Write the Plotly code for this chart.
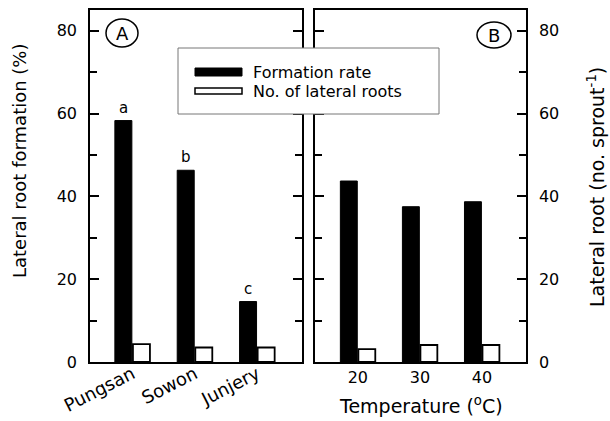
import plotly.graph_objects as go

# ---- data ----
cultivars = ["Pungsan", "Sowon", "Junjery"]
formation_a = [58.3, 46.3, 14.6]
lateral_a = [4.3, 3.5, 3.5]
letters_a = ["a", "b", "c"]

temps = ["20", "30", "40"]
formation_b = [43.7, 37.5, 38.7]
lateral_b = [3.1, 4.1, 4.1]

y_ticks = [0, 20, 40, 60, 80]

W, H = 610, 421
FONT = "DejaVu Sans"


def px(x):
    return x / W


def py(y):
    return 1 - y / H


fig = go.Figure()

black = dict(color="black", line=dict(color="black", width=1))
white = dict(color="white", line=dict(color="black", width=1.8))

fig.add_trace(go.Bar(x=cultivars, y=formation_a, marker=black, name="Formation rate",
                     xaxis="x", yaxis="y", showlegend=False))
fig.add_trace(go.Bar(x=cultivars, y=lateral_a, marker=white, name="No. of lateral roots",
                     xaxis="x", yaxis="y", showlegend=False))
fig.add_trace(go.Bar(x=temps, y=formation_b, marker=black, name="Formation rate",
                     xaxis="x2", yaxis="y2", showlegend=False))
fig.add_trace(go.Bar(x=temps, y=lateral_b, marker=white, name="No. of lateral roots",
                     xaxis="x2", yaxis="y2", showlegend=False))

ydom = [1 - 362 / H, 1 - 10 / H]
domA = [px(90), px(302)]
domB = [px(315), px(526)]
rangeA = [-0.68, 2.72]
rangeB = [-0.69, 2.71]

common_x = dict(showline=True, linecolor="black", linewidth=1.5, mirror=True,
                ticks="", showgrid=False, zeroline=False, automargin=False,
                type="category")
common_y = dict(range=[0, 85], tickvals=y_ticks, showline=True, linecolor="black",
                linewidth=1.5, mirror="allticks", ticks="inside", ticklen=9,
                tickwidth=1.5, tickcolor="black", showgrid=False, zeroline=False,
                automargin=False,
                minor=dict(dtick=10, ticks="inside", ticklen=7, tickwidth=1.5,
                           tickcolor="black"),
                tickfont=dict(family=FONT, size=16, color="black"),
                ticklabelstandoff=8, domain=ydom)

top_ticks = dict(type="linear", side="top", ticks="inside", ticklen=7, tickwidth=1.5,
                 tickcolor="black", showticklabels=False, showline=False,
                 showgrid=False, zeroline=False, tickvals=[0, 1, 2], automargin=False)

fig.update_layout(
    width=W, height=H,
    margin=dict(l=0, r=0, t=0, b=0, pad=0, autoexpand=False),
    paper_bgcolor="white", plot_bgcolor="white",
    barmode="group", bargap=0.42, bargroupgap=0.06,
    showlegend=False,
    font=dict(family=FONT, color="black"),
    xaxis=dict(domain=domA, anchor="y", range=rangeA, tickangle=-27,
               ticklabelstandoff=-7,
               tickfont=dict(family=FONT, size=18, color="black"), **common_x),
    yaxis=dict(anchor="x", side="left", **common_y),
    xaxis2=dict(domain=domB, anchor="y2", range=rangeB, tickangle=0,
                tickfont=dict(family=FONT, size=16, color="black"), **common_x),
    yaxis2=dict(anchor="x2", side="right", **common_y),
    xaxis3=dict(overlaying="x", anchor="y", range=rangeA, **top_ticks),
    xaxis4=dict(overlaying="x2", anchor="y2", range=rangeB, **top_ticks),
)

annotations = []
# significance letters above the formation-rate bars
for c, v, t in zip(cultivars, formation_a, letters_a):
    annotations.append(dict(x=c, y=v, xref="x", yref="y", text=t, showarrow=False,
                            xshift=-9, xanchor="center", yanchor="bottom", yshift=2,
                            font=dict(family=FONT, size=15, color="black")))


def label(x, y, text, size, angle=0, xanchor="center"):
    return dict(x=px(x), y=py(y), xref="paper", yref="paper", text=text,
                textangle=angle, showarrow=False, xanchor=xanchor, yanchor="middle",
                font=dict(family=FONT, size=size, color="black"))


# axis titles
annotations.append(label(20, 161, "Lateral root formation (%)", 18, -90))
annotations.append(label(596, 187, "Lateral root (no. sprout<sup>-1</sup>)", 19, -90))
annotations.append(label(421, 405, "Temperature (<sup>o</sup>C)", 19))

# panel labels
annotations.append(label(122, 33, "A", 18))
annotations.append(label(494, 35, "B", 18))

# legend text
annotations.append(label(251, 72, "Formation rate", 16, xanchor="left"))
annotations.append(label(251, 91, "No. of lateral roots", 16, xanchor="left"))

shapes = [
    # panel label circles
    dict(type="circle", xref="paper", yref="paper", x0=px(106), x1=px(138),
         y0=py(47), y1=py(19), line=dict(color="black", width=1.5)),
    dict(type="circle", xref="paper", yref="paper", x0=px(477), x1=px(511),
         y0=py(48), y1=py(22), line=dict(color="black", width=1.5)),
    # legend box
    dict(type="rect", xref="paper", yref="paper", x0=px(178), x1=px(439),
         y0=py(114), y1=py(48), fillcolor="white", line=dict(color="#777", width=1),
         layer="above"),
    dict(type="rect", xref="paper", yref="paper", x0=px(195), x1=px(242),
         y0=py(76), y1=py(68), fillcolor="black", line=dict(color="black", width=1),
         layer="above"),
    dict(type="rect", xref="paper", yref="paper", x0=px(195), x1=px(242),
         y0=py(94), y1=py(88), fillcolor="white", line=dict(color="black", width=1.5),
         layer="above"),
]

fig.update_layout(annotations=annotations, shapes=shapes)

fig.write_html("out.html")
